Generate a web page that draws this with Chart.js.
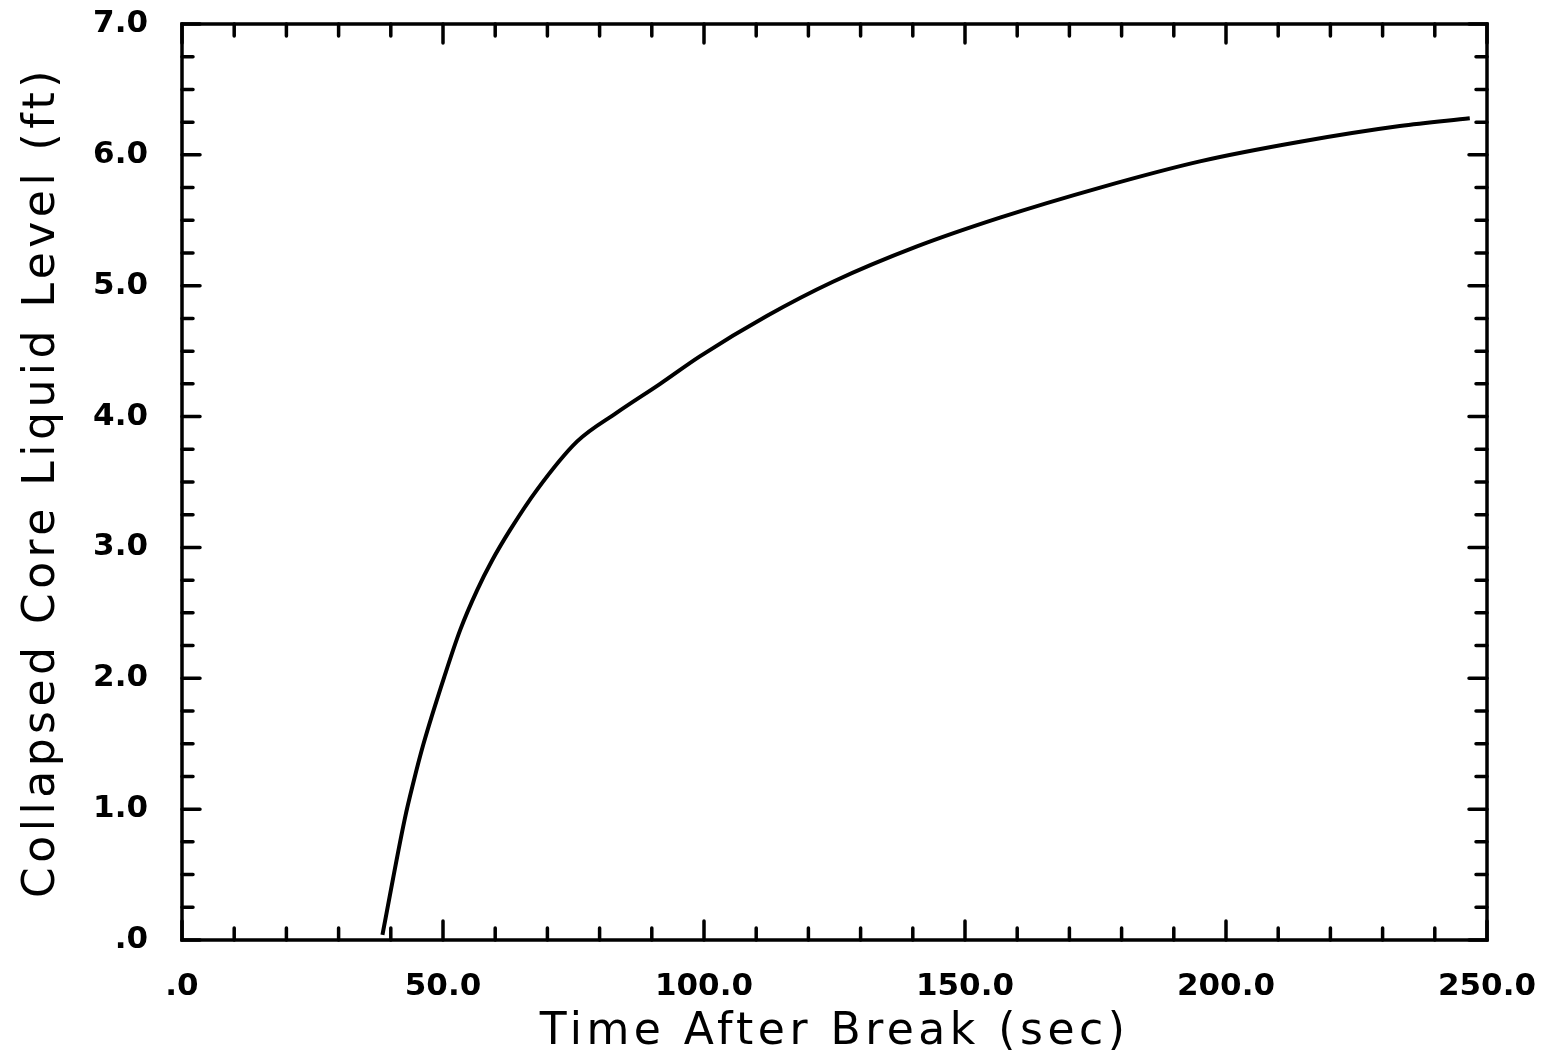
<!DOCTYPE html>
<html>
<head>
<meta charset="utf-8">
<script src="https://cdn.jsdelivr.net/npm/chart.js@4.4.1/dist/chart.umd.min.js"></script>
<style>
  html, body { margin: 0; padding: 0; background: #fff; }
  #wrap { width: 1546px; height: 1064px; }
</style>
</head>
<body>
<div id="wrap"><canvas id="levelChart" width="1546" height="1064"></canvas></div>
<script>
// data
const timeSec = [38.4, 42.7, 44.3, 46.2, 50.4, 53.3, 56.5, 59.4, 62.8, 68.0, 75.7, 83.3,
  91.6, 99.2, 112.1, 124.7, 140.8, 156.7, 175.9, 195.0, 214.2, 233.3, 246.7];
const levelFt = [0.04, 0.93, 1.20, 1.49, 2.03, 2.37, 2.67, 2.90, 3.13, 3.44, 3.81, 4.03,
  4.25, 4.46, 4.77, 5.03, 5.30, 5.52, 5.75, 5.95, 6.10, 6.22, 6.28];

const xTickLabels = [".0", "50.0", "100.0", "150.0", "200.0", "250.0"];
const yTickLabels = [".0", "1.0", "2.0", "3.0", "4.0", "5.0", "6.0", "7.0"];

const points = timeSec.map((t, i) => ({ x: t, y: levelFt[i] }));

function isWhole(v, step) {
  return Math.abs(v / step - Math.round(v / step)) < 1e-6;
}

/* frame + inward tick marks, old plotter style */
const framePlugin = {
  id: "frame",
  beforeDraw(chart) {
    chart.ctx.letterSpacing = "4.5px";
  },
  afterDatasetsDraw(chart) {
    const { ctx, chartArea: a, scales } = chart;
    ctx.save();
    ctx.strokeStyle = "#000";
    ctx.lineWidth = 3.5;
    ctx.lineCap = "round";
    ctx.strokeRect(a.left, a.top, a.right - a.left, a.bottom - a.top);

    scales.x.ticks.forEach(t => {
      const px = scales.x.getPixelForValue(t.value);
      const len = isWhole(t.value, 50) ? 19 : 12;
      ctx.beginPath();
      ctx.moveTo(px, a.bottom); ctx.lineTo(px, a.bottom - len);
      ctx.moveTo(px, a.top); ctx.lineTo(px, a.top + len);
      ctx.stroke();
    });
    scales.y.ticks.forEach(t => {
      const py = scales.y.getPixelForValue(t.value);
      const len = isWhole(t.value, 1) ? 18 : 11;
      ctx.beginPath();
      ctx.moveTo(a.left, py); ctx.lineTo(a.left + len, py);
      ctx.moveTo(a.right, py); ctx.lineTo(a.right - len, py);
      ctx.stroke();
    });
    ctx.restore();
    ctx.letterSpacing = "0px";
  },
  afterDraw(chart) {
    chart.ctx.letterSpacing = "0px";
  }
};

new Chart(document.getElementById("levelChart"), {
  type: "scatter",
  data: {
    datasets: [{
      data: points,
      showLine: true,
      borderColor: "#000",
      borderWidth: 4,
      pointRadius: 0,
      cubicInterpolationMode: "monotone",
      fill: false
    }]
  },
  options: {
    responsive: false,
    animation: false,
    layout: { padding: { left: 0, top: 24, right: 59, bottom: 0 } },
    plugins: {
      legend: { display: false },
      tooltip: { enabled: false }
    },
    scales: {
      x: {
        type: "linear",
        min: 0,
        max: 250,
        grid: { display: false, drawTicks: false },
        border: { display: false },
        afterFit: s => {
          s.height = 124;
          s.paddingLeft = 0;
          s.paddingRight = 0;
        },
        ticks: {
          stepSize: 10,
          autoSkip: false,
          maxRotation: 0,
          padding: 28,
          color: "#000",
          z: 1,
          font: { family: "DejaVu Sans", size: 31, weight: "bold" },
          callback: v => (isWhole(v, 50) ? xTickLabels[Math.round(v / 50)] : "")
        },
        title: {
          display: true,
          text: "Time After Break (sec)",
          color: "#000",
          padding: { top: 0, bottom: 5 },
          font: { family: "DejaVu Sans", size: 44 }
        }
      },
      y: {
        type: "linear",
        min: 0,
        max: 7,
        grid: { display: false, drawTicks: false },
        border: { display: false },
        afterFit: s => {
          s.width = 182;
          s.paddingTop = 0;
          s.paddingBottom = 0;
        },
        ticks: {
          stepSize: 0.25,
          autoSkip: false,
          padding: 34,
          color: "#000",
          z: 1,
          font: { family: "DejaVu Sans", size: 31, weight: "bold" },
          callback: v => (isWhole(v, 1) ? yTickLabels[Math.round(v)] : "")
        },
        title: {
          display: true,
          text: "Collapsed Core Liquid Level (ft)",
          color: "#000",
          padding: { top: 16, bottom: 0 },
          font: { family: "DejaVu Sans", size: 44 }
        }
      }
    }
  },
  plugins: [framePlugin]
});
</script>
</body>
</html>
